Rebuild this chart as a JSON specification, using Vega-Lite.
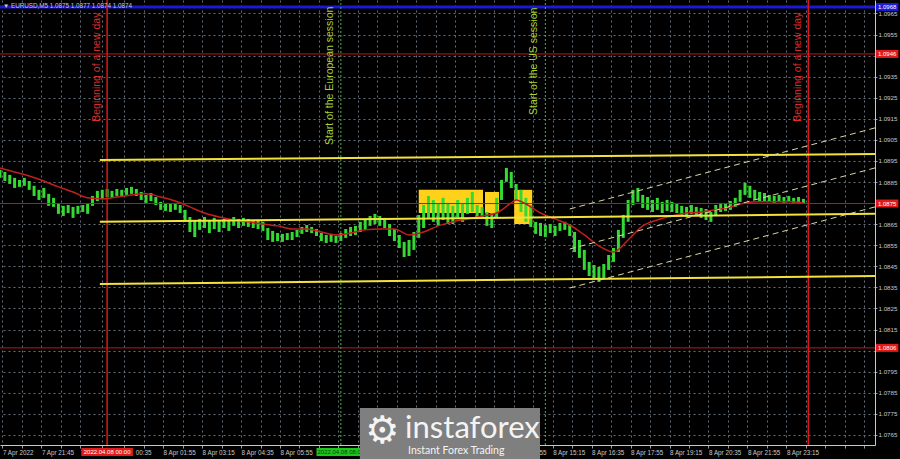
{
"$schema":"https://vega.github.io/schema/vega-lite/v6.json",
"width":875,"height":445,
"autosize":{"type":"none"},
"padding":{"left":0,"top":0,"right":25,"bottom":14},
"background":"#000000",
"config":{"view":{"stroke":null}},
"encoding":{
"x":{"field":"t","type":"temporal","scale":{"domain":[{"year":2022,"month":4,"date":7,"hours":20,"minutes":20},{"year":2022,"month":4,"date":9,"hours":2,"minutes":17}],"nice":false},
"axis":{"title":null,"orient":"bottom","values":[
{"year":2022,"month":4,"date":7,"hours":20,"minutes":25},{"year":2022,"month":4,"date":7,"hours":21,"minutes":5},{"year":2022,"month":4,"date":7,"hours":21,"minutes":45},{"year":2022,"month":4,"date":7,"hours":22,"minutes":25},{"year":2022,"month":4,"date":7,"hours":23,"minutes":5},{"year":2022,"month":4,"date":7,"hours":23,"minutes":50},
{"year":2022,"month":4,"date":8,"hours":0,"minutes":35},{"year":2022,"month":4,"date":8,"hours":1,"minutes":15},{"year":2022,"month":4,"date":8,"hours":1,"minutes":55},{"year":2022,"month":4,"date":8,"hours":2,"minutes":35},{"year":2022,"month":4,"date":8,"hours":3,"minutes":15},{"year":2022,"month":4,"date":8,"hours":3,"minutes":55},{"year":2022,"month":4,"date":8,"hours":4,"minutes":35},{"year":2022,"month":4,"date":8,"hours":5,"minutes":15},{"year":2022,"month":4,"date":8,"hours":5,"minutes":55},{"year":2022,"month":4,"date":8,"hours":6,"minutes":35},{"year":2022,"month":4,"date":8,"hours":7,"minutes":15},{"year":2022,"month":4,"date":8,"hours":7,"minutes":55},{"year":2022,"month":4,"date":8,"hours":8,"minutes":35},{"year":2022,"month":4,"date":8,"hours":9,"minutes":15},{"year":2022,"month":4,"date":8,"hours":9,"minutes":55},{"year":2022,"month":4,"date":8,"hours":10,"minutes":35},{"year":2022,"month":4,"date":8,"hours":11,"minutes":15},{"year":2022,"month":4,"date":8,"hours":11,"minutes":55},{"year":2022,"month":4,"date":8,"hours":12,"minutes":35},{"year":2022,"month":4,"date":8,"hours":13,"minutes":15},{"year":2022,"month":4,"date":8,"hours":13,"minutes":55},{"year":2022,"month":4,"date":8,"hours":14,"minutes":35},{"year":2022,"month":4,"date":8,"hours":15,"minutes":15},{"year":2022,"month":4,"date":8,"hours":15,"minutes":55},{"year":2022,"month":4,"date":8,"hours":16,"minutes":35},{"year":2022,"month":4,"date":8,"hours":17,"minutes":15},{"year":2022,"month":4,"date":8,"hours":17,"minutes":55},{"year":2022,"month":4,"date":8,"hours":18,"minutes":35},{"year":2022,"month":4,"date":8,"hours":19,"minutes":15},{"year":2022,"month":4,"date":8,"hours":19,"minutes":55},{"year":2022,"month":4,"date":8,"hours":20,"minutes":35},{"year":2022,"month":4,"date":8,"hours":21,"minutes":15},{"year":2022,"month":4,"date":8,"hours":21,"minutes":55},{"year":2022,"month":4,"date":8,"hours":22,"minutes":35},{"year":2022,"month":4,"date":8,"hours":23,"minutes":15},{"year":2022,"month":4,"date":8,"hours":23,"minutes":55},
{"year":2022,"month":4,"date":9,"hours":0,"minutes":35},{"year":2022,"month":4,"date":9,"hours":1,"minutes":15},{"year":2022,"month":4,"date":9,"hours":1,"minutes":55}],
"labelExpr":"datum.value < datetime(2022,3,7,20,30) ? '7 Apr 2022' : (datum.value > datetime(2022,3,8,23,30) ? '' : (timeFormat(datum.value, '%H:%M') == '23:05' ? '7' : (timeFormat(datum.value, '%H:%M') == '00:35' ? '00:35' : (indexof(['21:45','01:55','03:15','04:35','05:55','13:55','15:15','16:35','17:55','19:15','20:35','21:55','23:15'], timeFormat(datum.value, '%H:%M')) >= 0 ? timeFormat(datum.value, '%-d %b %H:%M') : ''))))",
"labelOffset":{"condition":{"test":"timeFormat(datum.value, '%H:%M') == '00:35'","value":11},"value":0},
"labelAlign":"left","labelFlush":false,"labelOverlap":false,"labelBound":false,"labelFont":"Liberation Sans","labelFontSize":6.3,"labelColor":"#c8c8c8","labelPadding":1,"tickSize":3,"tickColor":"#9a9a9a","domainColor":"#c8c8c8","domainWidth":1,"grid":true,"gridColor":"#6e7a86","gridDash":[2,3],"gridWidth":1,"gridOpacity":0.9}},
"y":{"field":"p","type":"quantitative","scale":{"domain":[1.07602,1.09714],"nice":false,"zero":false},
"axis":{"title":null,"orient":"right","values":[1.0765,1.0775,1.0785,1.0795,1.0805,1.0815,1.0825,1.0835,1.0845,1.0855,1.0865,1.0875,1.0885,1.0895,1.0905,1.0915,1.0925,1.0935,1.0945,1.0955,1.0965],"format":".4f",
"labelExpr":"indexof(['1.0945','1.0875','1.0805'], datum.label) >= 0 ? '' : datum.label",
"labelAlign":"left","labelFont":"Liberation Sans","labelFontSize":6.2,"labelColor":"#c8c8c8","labelPadding":1,"tickSize":2,"tickColor":"#9a9a9a","domainColor":"#c8c8c8","grid":true,"gridColor":"#6e7a86","gridDash":[2,3],"gridOpacity":0.9,"labelOverlap":false,"labelFlush":false,"labelBound":false}}
},
"layer":[
{"data":{"values":[
{"t":"2022-04-08T10:40","t2":"2022-04-08T12:52","p":1.08813,"p2":1.08703},
{"t":"2022-04-08T12:56","t2":"2022-04-08T13:25","p":1.08803,"p2":1.08703},
{"t":"2022-04-08T13:56","t2":"2022-04-08T14:33","p":1.08813,"p2":1.08651}],"format":{"parse":{"t":"date","t2":"date"}}},
"mark":{"type":"rect","color":"#ffd11a"},
"encoding":{"x2":{"field":"t2"},"y2":{"field":"p2"}}},
{"data":{"values":[
{"t":"2022-04-07T20:20","p":1.0887,"p2":1.08908},{"t":"2022-04-07T20:30","p":1.08855,"p2":1.08898},{"t":"2022-04-07T20:40","p":1.08841,"p2":1.08884},{"t":"2022-04-07T20:50","p":1.08822,"p2":1.0887},{"t":"2022-04-07T21:00","p":1.08827,"p2":1.0886},{"t":"2022-04-07T21:10","p":1.08832,"p2":1.0887},{"t":"2022-04-07T21:20","p":1.08813,"p2":1.08855},{"t":"2022-04-07T21:30","p":1.08784,"p2":1.08832},{"t":"2022-04-07T21:40","p":1.08765,"p2":1.08813},{"t":"2022-04-07T21:50","p":1.08775,"p2":1.08822},
{"t":"2022-04-07T22:00","p":1.08737,"p2":1.08794},{"t":"2022-04-07T22:10","p":1.08732,"p2":1.08775},{"t":"2022-04-07T22:20","p":1.08699,"p2":1.08746},{"t":"2022-04-07T22:30","p":1.08689,"p2":1.08737},{"t":"2022-04-07T22:40","p":1.08703,"p2":1.08741},{"t":"2022-04-07T22:50","p":1.0868,"p2":1.08732},{"t":"2022-04-07T23:00","p":1.08699,"p2":1.08737},{"t":"2022-04-07T23:10","p":1.08708,"p2":1.08741},{"t":"2022-04-07T23:20","p":1.08699,"p2":1.08746},{"t":"2022-04-07T23:30","p":1.08737,"p2":1.08784},
{"t":"2022-04-07T23:40","p":1.0876,"p2":1.08808},{"t":"2022-04-07T23:50","p":1.0877,"p2":1.08813},{"t":"2022-04-08T00:00","p":1.08779,"p2":1.08817},{"t":"2022-04-08T00:10","p":1.08775,"p2":1.08808},{"t":"2022-04-08T00:20","p":1.08784,"p2":1.08817},{"t":"2022-04-08T00:30","p":1.08779,"p2":1.08813},{"t":"2022-04-08T00:40","p":1.08789,"p2":1.08822},{"t":"2022-04-08T00:50","p":1.08794,"p2":1.08827},{"t":"2022-04-08T01:00","p":1.08784,"p2":1.08817},{"t":"2022-04-08T01:10","p":1.08765,"p2":1.08803},
{"t":"2022-04-08T01:20","p":1.08751,"p2":1.08789},{"t":"2022-04-08T01:30","p":1.0876,"p2":1.08798},{"t":"2022-04-08T01:40","p":1.08741,"p2":1.08779},{"t":"2022-04-08T01:50","p":1.08718,"p2":1.08756},{"t":"2022-04-08T02:00","p":1.08713,"p2":1.08751},{"t":"2022-04-08T02:10","p":1.08708,"p2":1.08746},{"t":"2022-04-08T02:20","p":1.08718,"p2":1.08751},{"t":"2022-04-08T02:30","p":1.08703,"p2":1.08741},{"t":"2022-04-08T02:40","p":1.08661,"p2":1.08718},{"t":"2022-04-08T02:50","p":1.08613,"p2":1.08684},
{"t":"2022-04-08T03:00","p":1.08589,"p2":1.0867},{"t":"2022-04-08T03:10","p":1.08623,"p2":1.08675},{"t":"2022-04-08T03:20","p":1.08632,"p2":1.08684},{"t":"2022-04-08T03:30","p":1.08608,"p2":1.0867},{"t":"2022-04-08T03:40","p":1.08627,"p2":1.0868},{"t":"2022-04-08T03:50","p":1.08613,"p2":1.08665},{"t":"2022-04-08T04:00","p":1.08632,"p2":1.08675},{"t":"2022-04-08T04:10","p":1.08618,"p2":1.0867},{"t":"2022-04-08T04:20","p":1.08642,"p2":1.08684},{"t":"2022-04-08T04:30","p":1.08632,"p2":1.08675},
{"t":"2022-04-08T04:40","p":1.08642,"p2":1.0868},{"t":"2022-04-08T04:50","p":1.08637,"p2":1.08675},{"t":"2022-04-08T05:00","p":1.08632,"p2":1.0867},{"t":"2022-04-08T05:10","p":1.08627,"p2":1.08665},{"t":"2022-04-08T05:20","p":1.08618,"p2":1.08661},{"t":"2022-04-08T05:30","p":1.08575,"p2":1.08632},{"t":"2022-04-08T05:40","p":1.08566,"p2":1.08618},{"t":"2022-04-08T05:50","p":1.0857,"p2":1.08608},{"t":"2022-04-08T06:00","p":1.08566,"p2":1.08604},{"t":"2022-04-08T06:10","p":1.08575,"p2":1.08608},
{"t":"2022-04-08T06:20","p":1.08575,"p2":1.08613},{"t":"2022-04-08T06:30","p":1.08589,"p2":1.08623},{"t":"2022-04-08T06:40","p":1.08604,"p2":1.08637},{"t":"2022-04-08T06:50","p":1.08613,"p2":1.08646},{"t":"2022-04-08T07:00","p":1.08608,"p2":1.08637},{"t":"2022-04-08T07:10","p":1.08594,"p2":1.08627},{"t":"2022-04-08T07:20","p":1.0857,"p2":1.08608},{"t":"2022-04-08T07:30","p":1.08561,"p2":1.08599},{"t":"2022-04-08T07:40","p":1.08566,"p2":1.08604},{"t":"2022-04-08T07:50","p":1.08561,"p2":1.08594},
{"t":"2022-04-08T08:00","p":1.0857,"p2":1.08608},{"t":"2022-04-08T08:10","p":1.08585,"p2":1.08627},{"t":"2022-04-08T08:20","p":1.08594,"p2":1.08637},{"t":"2022-04-08T08:30","p":1.08599,"p2":1.08642},{"t":"2022-04-08T08:40","p":1.08613,"p2":1.08661},{"t":"2022-04-08T08:50","p":1.08623,"p2":1.0867},{"t":"2022-04-08T09:00","p":1.08642,"p2":1.08689},{"t":"2022-04-08T09:10","p":1.08651,"p2":1.08699},{"t":"2022-04-08T09:20","p":1.08642,"p2":1.08689},{"t":"2022-04-08T09:30","p":1.08632,"p2":1.0868},
{"t":"2022-04-08T09:40","p":1.08594,"p2":1.08651},{"t":"2022-04-08T09:50","p":1.0857,"p2":1.08627},{"t":"2022-04-08T10:00","p":1.08537,"p2":1.08599},{"t":"2022-04-08T10:10","p":1.08494,"p2":1.08566},{"t":"2022-04-08T10:20","p":1.08499,"p2":1.08575},{"t":"2022-04-08T10:30","p":1.08528,"p2":1.08613},{"t":"2022-04-08T10:40","p":1.08585,"p2":1.08694},{"t":"2022-04-08T10:50","p":1.08632,"p2":1.08741},{"t":"2022-04-08T11:00","p":1.0868,"p2":1.08784},{"t":"2022-04-08T11:10","p":1.08661,"p2":1.08765},
{"t":"2022-04-08T11:20","p":1.08642,"p2":1.08746},{"t":"2022-04-08T11:30","p":1.0867,"p2":1.08775},{"t":"2022-04-08T11:40","p":1.08651,"p2":1.08751},{"t":"2022-04-08T11:50","p":1.08651,"p2":1.08737},{"t":"2022-04-08T12:00","p":1.0868,"p2":1.08765},{"t":"2022-04-08T12:10","p":1.08661,"p2":1.08746},{"t":"2022-04-08T12:20","p":1.08699,"p2":1.08775},{"t":"2022-04-08T12:30","p":1.08708,"p2":1.08803},{"t":"2022-04-08T12:40","p":1.08684,"p2":1.08741},{"t":"2022-04-08T12:50","p":1.08675,"p2":1.08732},
{"t":"2022-04-08T13:00","p":1.08642,"p2":1.08708},{"t":"2022-04-08T13:10","p":1.08632,"p2":1.08703},{"t":"2022-04-08T13:20","p":1.0868,"p2":1.08775},{"t":"2022-04-08T13:30","p":1.08765,"p2":1.0886},{"t":"2022-04-08T13:40","p":1.08851,"p2":1.08917},{"t":"2022-04-08T13:50","p":1.08822,"p2":1.08898},{"t":"2022-04-08T14:00","p":1.08765,"p2":1.08841},{"t":"2022-04-08T14:10","p":1.08708,"p2":1.08813},{"t":"2022-04-08T14:20","p":1.08661,"p2":1.08775},{"t":"2022-04-08T14:30","p":1.08637,"p2":1.08741},
{"t":"2022-04-08T14:40","p":1.08604,"p2":1.08661},{"t":"2022-04-08T14:50","p":1.08594,"p2":1.08656},{"t":"2022-04-08T15:00","p":1.08589,"p2":1.08646},{"t":"2022-04-08T15:10","p":1.08608,"p2":1.08651},{"t":"2022-04-08T15:20","p":1.08594,"p2":1.08642},{"t":"2022-04-08T15:30","p":1.08618,"p2":1.08656},{"t":"2022-04-08T15:40","p":1.08623,"p2":1.08661},{"t":"2022-04-08T15:50","p":1.08594,"p2":1.08651},{"t":"2022-04-08T16:00","p":1.08518,"p2":1.08613},{"t":"2022-04-08T16:10","p":1.0849,"p2":1.08575},
{"t":"2022-04-08T16:20","p":1.08433,"p2":1.08528},{"t":"2022-04-08T16:30","p":1.08404,"p2":1.08471},{"t":"2022-04-08T16:40","p":1.0839,"p2":1.08456},{"t":"2022-04-08T16:50","p":1.08376,"p2":1.08447},{"t":"2022-04-08T17:00","p":1.08395,"p2":1.08461},{"t":"2022-04-08T17:10","p":1.08433,"p2":1.08504},{"t":"2022-04-08T17:20","p":1.08471,"p2":1.08537},{"t":"2022-04-08T17:30","p":1.08518,"p2":1.08623},{"t":"2022-04-08T17:40","p":1.08585,"p2":1.08694},{"t":"2022-04-08T17:50","p":1.08661,"p2":1.08765},
{"t":"2022-04-08T18:00","p":1.08741,"p2":1.08813},{"t":"2022-04-08T18:10","p":1.08756,"p2":1.08822},{"t":"2022-04-08T18:20","p":1.08727,"p2":1.08789},{"t":"2022-04-08T18:30","p":1.08718,"p2":1.08779},{"t":"2022-04-08T18:40","p":1.08708,"p2":1.08765},{"t":"2022-04-08T18:50","p":1.08718,"p2":1.08775},{"t":"2022-04-08T19:00","p":1.08703,"p2":1.08756},{"t":"2022-04-08T19:10","p":1.08713,"p2":1.08765},{"t":"2022-04-08T19:20","p":1.08708,"p2":1.08756},{"t":"2022-04-08T19:30","p":1.08703,"p2":1.08746},
{"t":"2022-04-08T19:40","p":1.08689,"p2":1.08737},{"t":"2022-04-08T19:50","p":1.08684,"p2":1.08732},{"t":"2022-04-08T20:00","p":1.08699,"p2":1.08741},{"t":"2022-04-08T20:10","p":1.08689,"p2":1.08732},{"t":"2022-04-08T20:20","p":1.0868,"p2":1.08727},{"t":"2022-04-08T20:30","p":1.0867,"p2":1.08722},{"t":"2022-04-08T20:40","p":1.08661,"p2":1.08708},{"t":"2022-04-08T20:50","p":1.08689,"p2":1.08741},{"t":"2022-04-08T21:00","p":1.08708,"p2":1.08751},{"t":"2022-04-08T21:10","p":1.08713,"p2":1.08746},
{"t":"2022-04-08T21:20","p":1.08718,"p2":1.0876},{"t":"2022-04-08T21:30","p":1.08732,"p2":1.08775},{"t":"2022-04-08T21:40","p":1.08756,"p2":1.08813},{"t":"2022-04-08T21:50","p":1.08789,"p2":1.08846},{"t":"2022-04-08T22:00","p":1.08775,"p2":1.08832},{"t":"2022-04-08T22:10","p":1.08765,"p2":1.08813},{"t":"2022-04-08T22:20","p":1.0876,"p2":1.08803},{"t":"2022-04-08T22:30","p":1.08756,"p2":1.08798},{"t":"2022-04-08T22:40","p":1.08756,"p2":1.08789},{"t":"2022-04-08T22:50","p":1.08751,"p2":1.08784},
{"t":"2022-04-08T23:00","p":1.0876,"p2":1.08789},{"t":"2022-04-08T23:10","p":1.08751,"p2":1.08779},{"t":"2022-04-08T23:20","p":1.08756,"p2":1.08784},{"t":"2022-04-08T23:30","p":1.08751,"p2":1.08775},{"t":"2022-04-08T23:40","p":1.08751,"p2":1.08779},{"t":"2022-04-08T23:50","p":1.08751,"p2":1.0877}],"format":{"parse":{"t":"date"}}},
"mark":{"type":"rule","color":"#34d934","strokeWidth":3},
"encoding":{"y2":{"field":"p2"}}},
{"data":{"values":[
{"t":"2022-04-07T20:20","p":1.08917},{"t":"2022-04-07T20:50","p":1.08898},{"t":"2022-04-07T21:20","p":1.08879},{"t":"2022-04-07T21:50","p":1.08855},{"t":"2022-04-07T22:20","p":1.08827},{"t":"2022-04-07T22:50","p":1.08803},{"t":"2022-04-07T23:20","p":1.08775},{"t":"2022-04-07T23:50","p":1.0877},{"t":"2022-04-08T00:20","p":1.08779},{"t":"2022-04-08T00:50","p":1.08789},{"t":"2022-04-08T01:20","p":1.08794},{"t":"2022-04-08T01:50","p":1.08779},{"t":"2022-04-08T02:20","p":1.0876},{"t":"2022-04-08T02:50","p":1.08732},{"t":"2022-04-08T03:20","p":1.08703},{"t":"2022-04-08T03:50","p":1.08684},{"t":"2022-04-08T04:20","p":1.0867},{"t":"2022-04-08T04:50","p":1.08661},{"t":"2022-04-08T05:20","p":1.08651},{"t":"2022-04-08T05:50","p":1.08642},{"t":"2022-04-08T06:20","p":1.08627},{"t":"2022-04-08T06:50","p":1.08627},{"t":"2022-04-08T07:20","p":1.08613},{"t":"2022-04-08T07:50","p":1.08599},{"t":"2022-04-08T08:20","p":1.08608},{"t":"2022-04-08T08:50","p":1.08623},{"t":"2022-04-08T09:20","p":1.08627},{"t":"2022-04-08T09:50","p":1.08627},{"t":"2022-04-08T10:20","p":1.08599},{"t":"2022-04-08T10:50","p":1.08613},{"t":"2022-04-08T11:20","p":1.08642},{"t":"2022-04-08T11:50","p":1.08661},{"t":"2022-04-08T12:20","p":1.08675},{"t":"2022-04-08T12:50","p":1.08689},{"t":"2022-04-08T13:20","p":1.08703},{"t":"2022-04-08T13:50","p":1.08751},{"t":"2022-04-08T14:00","p":1.08765},{"t":"2022-04-08T14:20","p":1.08746},{"t":"2022-04-08T14:50","p":1.08703},{"t":"2022-04-08T15:20","p":1.08675},{"t":"2022-04-08T15:50","p":1.08646},{"t":"2022-04-08T16:20","p":1.08599},{"t":"2022-04-08T16:50","p":1.08547},{"t":"2022-04-08T17:20","p":1.08518},{"t":"2022-04-08T17:50","p":1.08575},{"t":"2022-04-08T18:20","p":1.08642},{"t":"2022-04-08T18:50","p":1.0867},{"t":"2022-04-08T19:20","p":1.08689},{"t":"2022-04-08T19:50","p":1.08703},{"t":"2022-04-08T20:20","p":1.08708},{"t":"2022-04-08T20:50","p":1.08718},{"t":"2022-04-08T21:20","p":1.08732},{"t":"2022-04-08T21:50","p":1.08751},{"t":"2022-04-08T22:20","p":1.08756},{"t":"2022-04-08T22:50","p":1.08756},{"t":"2022-04-08T23:20","p":1.08756},{"t":"2022-04-08T23:50","p":1.08751}],"format":{"parse":{"t":"date"}}},
"mark":{"type":"line","color":"#c41e1e","strokeWidth":1.5,"interpolate":"monotone"},
"encoding":{}},
{"data":{"values":[
{"t":"2022-04-07T20:20","t2":"2022-04-09T02:17","p":1.09458},
{"t":"2022-04-07T20:20","t2":"2022-04-09T02:17","p":1.08748},
{"t":"2022-04-07T20:20","t2":"2022-04-09T02:17","p":1.08063}],"format":{"parse":{"t":"date","t2":"date"}}},
"mark":{"type":"rule","color":"#c81414","strokeWidth":1},
"encoding":{"x2":{"field":"t2"}}},
{"data":{"values":[{"t":"2022-04-07T20:20","t2":"2022-04-09T02:17","p":1.09681}],"format":{"parse":{"t":"date","t2":"date"}}},
"mark":{"type":"rule","color":"#1a1ad2","strokeWidth":3},
"encoding":{"x2":{"field":"t2"}}},
{"data":{"values":[{"t":"2022-04-08T00:00","p":1.07602,"p2":1.09714},{"t":"2022-04-09T00:00","p":1.07602,"p2":1.09714}],"format":{"parse":{"t":"date"}}},
"mark":{"type":"rule","color":"#e01515","strokeWidth":1.5},
"encoding":{"y2":{"field":"p2"}}},
{"data":{"values":[{"t":"2022-04-08T08:00","p":1.07602,"p2":1.09714},{"t":"2022-04-08T15:00","p":1.07602,"p2":1.09714}],"format":{"parse":{"t":"date"}}},
"mark":{"type":"rule","color":"#4caf50","strokeWidth":1,"strokeDash":[2,2]},
"encoding":{"y2":{"field":"p2"}}},
{"data":{"values":[
{"t":"2022-04-07T23:45","t2":"2022-04-09T02:17","p":1.08955,"p2":1.08983},
{"t":"2022-04-07T23:45","t2":"2022-04-09T02:17","p":1.08661,"p2":1.08699},
{"t":"2022-04-07T23:45","t2":"2022-04-09T02:17","p":1.08366,"p2":1.08404}],"format":{"parse":{"t":"date","t2":"date"}}},
"mark":{"type":"rule","color":"#f2e33a","strokeWidth":2},
"encoding":{"x2":{"field":"t2"},"y2":{"field":"p2"}}},
{"data":{"values":[
{"t":"2022-04-08T15:50","t2":"2022-04-09T02:17","p":1.08722,"p2":1.09107},
{"t":"2022-04-08T15:50","t2":"2022-04-09T02:17","p":1.08532,"p2":1.08917},
{"t":"2022-04-08T15:50","t2":"2022-04-09T02:17","p":1.08347,"p2":1.08732}],"format":{"parse":{"t":"date","t2":"date"}}},
"mark":{"type":"rule","color":"#d9d6a6","strokeWidth":1,"strokeDash":[6,4]},
"encoding":{"x2":{"field":"t2"},"y2":{"field":"p2"}}},
{"data":{"values":[
{"t":"2022-04-08T00:00","p":1.09136,"label":"Beginning of a new day"},
{"t":"2022-04-09T00:00","p":1.09136,"label":"Beginning of a new day"}],"format":{"parse":{"t":"date"}}},
"mark":{"type":"text","angle":270,"align":"left","baseline":"bottom","dy":-5,"font":"Liberation Sans","fontSize":10.5,"color":"#dd2c2c"},
"encoding":{"text":{"field":"label"}}},
{"data":{"values":[
{"t":"2022-04-08T08:00","p":1.09026,"label":"Start of the European session"},
{"t":"2022-04-08T15:00","p":1.09168,"label":"Start of the US session"}],"format":{"parse":{"t":"date"}}},
"mark":{"type":"text","angle":270,"align":"left","baseline":"bottom","dy":-6,"font":"Liberation Sans","fontSize":10.5,"color":"#a8d13a"},
"encoding":{"text":{"field":"label"}}},
{"data":{"values":[{"t":"2022-04-07T20:20","p":1.09684,"label":"▼ EURUSD,M5  1.0875 1.0877 1.0874 1.0874"}],"format":{"parse":{"t":"date"}}},
"mark":{"type":"text","align":"left","baseline":"middle","dx":3,"font":"Liberation Sans","fontSize":6.3,"color":"#c8c8c8"},
"encoding":{"text":{"field":"label"}}},
{"data":{"values":[{"t":"2022-04-09T02:19","t2":"2022-04-09T03:05","p":1.097,"p2":1.09662}],"format":{"parse":{"t":"date","t2":"date"}}},
"mark":{"type":"rect","color":"#1c1cd8"},
"encoding":{"x2":{"field":"t2"},"y2":{"field":"p2"}}},
{"data":{"values":[
{"t":"2022-04-09T02:19","t2":"2022-04-09T03:05","p":1.09477,"p2":1.09439},
{"t":"2022-04-09T02:19","t2":"2022-04-09T03:05","p":1.08767,"p2":1.08729},
{"t":"2022-04-09T02:19","t2":"2022-04-09T03:05","p":1.08082,"p2":1.08044}],"format":{"parse":{"t":"date","t2":"date"}}},
"mark":{"type":"rect","color":"#e01b1b"},
"encoding":{"x2":{"field":"t2"},"y2":{"field":"p2"}}},
{"data":{"values":[
{"t":"2022-04-09T02:42","p":1.09681,"label":"1.0968"},
{"t":"2022-04-09T02:42","p":1.09458,"label":"1.0946"},
{"t":"2022-04-09T02:42","p":1.08748,"label":"1.0875"},
{"t":"2022-04-09T02:42","p":1.08063,"label":"1.0806"}],"format":{"parse":{"t":"date"}}},
"mark":{"type":"text","align":"center","baseline":"middle","font":"Liberation Sans","fontSize":6,"color":"#ffffff"},
"encoding":{"text":{"field":"label"}}},
{"data":{"values":[{"t":"2022-04-07T23:07","t2":"2022-04-08T00:53","p":1.07588,"p2":1.0755}],"format":{"parse":{"t":"date","t2":"date"}}},
"mark":{"type":"rect","color":"#e01b1b"},
"encoding":{"x2":{"field":"t2"},"y2":{"field":"p2"}}},
{"data":{"values":[{"t":"2022-04-08T07:10","t2":"2022-04-08T08:50","p":1.07588,"p2":1.0755}],"format":{"parse":{"t":"date","t2":"date"}}},
"mark":{"type":"rect","color":"#1fc41f"},
"encoding":{"x2":{"field":"t2"},"y2":{"field":"p2"}}},
{"data":{"values":[{"t":"2022-04-08T00:00","p":1.07569,"label":"2022.04.08 00:00"}],"format":{"parse":{"t":"date"}}},
"mark":{"type":"text","align":"center","baseline":"middle","font":"Liberation Sans","fontSize":6,"color":"#ffffff"},
"encoding":{"text":{"field":"label"}}},
{"data":{"values":[{"t":"2022-04-08T08:00","p":1.07569,"label":"2022.04.08 08:00"}],"format":{"parse":{"t":"date"}}},
"mark":{"type":"text","align":"center","baseline":"middle","font":"Liberation Sans","fontSize":6,"color":"#0b3d0b"},
"encoding":{"text":{"field":"label"}}},
{"data":{"values":[{"t":"2022-04-08T08:39","t2":"2022-04-08T14:49","p":1.07778,"p2":1.07536}],"format":{"parse":{"t":"date","t2":"date"}}},
"mark":{"type":"rect","color":"#7f7f7f"},
"encoding":{"x2":{"field":"t2"},"y2":{"field":"p2"}}},
{"data":{"values":[{"t":"2022-04-08T09:25","p":1.07664,"label":"⚙"}],"format":{"parse":{"t":"date"}}},
"mark":{"type":"text","align":"center","baseline":"middle","font":"DejaVu Sans","fontSize":38,"color":"#f4f4f4"},
"encoding":{"text":{"field":"label"}}},
{"data":{"values":[{"t":"2022-04-08T10:12","p":1.07635,"label":"instaforex"}],"format":{"parse":{"t":"date"}}},
"mark":{"type":"text","align":"left","baseline":"alphabetic","font":"Lato","fontSize":31,"color":"#f4f4f4"},
"encoding":{"text":{"field":"label"}}},
{"data":{"values":[{"t":"2022-04-08T10:18","p":1.0756,"label":"Instant Forex Trading"}],"format":{"parse":{"t":"date"}}},
"mark":{"type":"text","align":"left","baseline":"alphabetic","font":"Lato","fontSize":10.5,"color":"#f4f4f4"},
"encoding":{"text":{"field":"label"}}}
]
}
